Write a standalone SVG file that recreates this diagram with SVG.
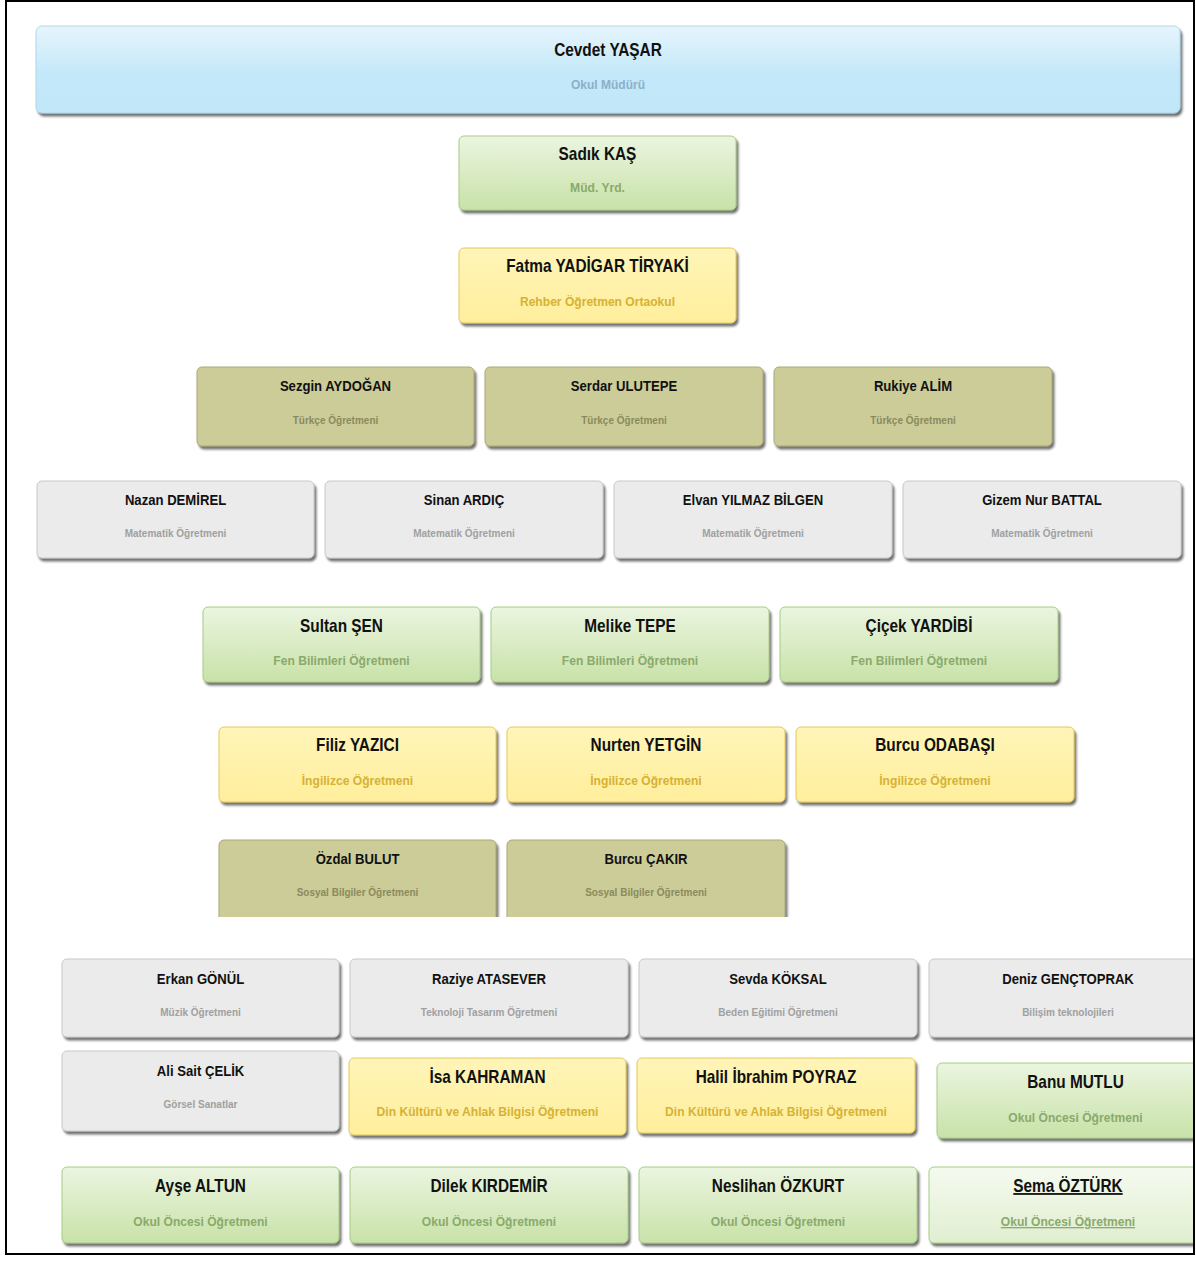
<svg xmlns="http://www.w3.org/2000/svg" width="1196" height="1263" viewBox="0 0 1196 1263">
<style>
.t{font-family:"Liberation Sans",Arial,sans-serif;font-weight:bold;fill:#111;text-anchor:middle;transform-box:fill-box;transform-origin:center}
.t18{font-size:18px;transform:scaleX(.855)}.t15{font-size:15px;transform:scaleX(.875)}
.s{font-family:"Liberation Sans",Arial,sans-serif;font-weight:bold;text-anchor:middle;font-size:13px;transform-box:fill-box;transform-origin:center;transform:scaleX(.93)}
.ss{font-family:"Liberation Sans",Arial,sans-serif;font-weight:bold;text-anchor:middle;font-size:10px}
.blue rect{fill:url(#gb);stroke:#aed8ea}.blue .s{fill:#8cb0c8;font-size:12px;transform:none}
.green rect{fill:url(#gg);stroke:#a6cc84}.green .s{fill:#8aaa6c}
.yellow rect{fill:url(#gy);stroke:#e6c85a}.yellow .s{fill:#d6b234}
.olive rect{fill:#cccc99;stroke:#a9a979}.olive .ss{fill:#8a8a5c}
.gray rect{fill:#ebebeb;stroke:#c8c8c8}.gray .ss{fill:#a0a0a0}
.light rect{fill:url(#gl);stroke:#a6cc84}.light .s{fill:#8aaa6c}
.n rect{filter:url(#sh);stroke-width:1}
.u{text-decoration:underline}
</style>
<defs>
<linearGradient id="gb" x1="0" y1="0" x2="0" y2="1"><stop offset="0" stop-color="#e6f5fc"/><stop offset="0.55" stop-color="#c3e8f9"/><stop offset="1" stop-color="#c0e7f9"/></linearGradient>
<linearGradient id="gg" x1="0" y1="0" x2="0" y2="1"><stop offset="0" stop-color="#ebf5e0"/><stop offset="1" stop-color="#c8e2a8"/></linearGradient>
<linearGradient id="gy" x1="0" y1="0" x2="0" y2="1"><stop offset="0" stop-color="#fff5b8"/><stop offset="1" stop-color="#ffee9c"/></linearGradient>
<linearGradient id="gl" x1="0" y1="0" x2="0" y2="1"><stop offset="0" stop-color="#f5faef"/><stop offset="1" stop-color="#e0eed0"/></linearGradient>
<filter id="sh" x="-5%" y="-10%" width="112%" height="130%"><feDropShadow dx="2" dy="3" stdDeviation="1.2" flood-color="#444" flood-opacity="0.75"/></filter>
<clipPath id="frame"><rect x="6" y="1" width="1187" height="1252"/></clipPath>
<clipPath id="cut917"><rect x="0" y="0" width="1196" height="917"/></clipPath>
</defs>
<rect width="1196" height="1263" fill="#fff"/>
<g id="connectors"/>
<g clip-path="url(#frame)">
<g id="n-cevdet" class="n blue"><rect x="36" y="26" width="1144" height="87" rx="6"/><text class="t t18" x="608" y="56">Cevdet YAŞAR</text><text class="s" x="608" y="89">Okul Müdürü</text></g>
<g id="n-sadik" class="n green"><rect x="459" y="136" width="277" height="74" rx="5"/><text class="t t18" x="597.5" y="160">Sadık KAŞ</text><text class="s" x="597.5" y="192">Müd. Yrd.</text></g>
<g id="n-fatma" class="n yellow"><rect x="459" y="248" width="277" height="75" rx="5"/><text class="t t18" x="597.5" y="272">Fatma YADİGAR TİRYAKİ</text><text class="s" x="597.5" y="306">Rehber Öğretmen Ortaokul</text></g>

<g id="n-sezgin" class="n olive"><rect x="197" y="367" width="277" height="79" rx="5"/><text class="t t15" x="335.5" y="391">Sezgin AYDOĞAN</text><text class="ss" x="335.5" y="424">Türkçe Öğretmeni</text></g>
<g id="n-serdar" class="n olive"><rect x="485" y="367" width="278" height="79" rx="5"/><text class="t t15" x="624" y="391">Serdar ULUTEPE</text><text class="ss" x="624" y="424">Türkçe Öğretmeni</text></g>
<g id="n-rukiye" class="n olive"><rect x="774" y="367" width="278" height="79" rx="5"/><text class="t t15" x="913" y="391">Rukiye ALİM</text><text class="ss" x="913" y="424">Türkçe Öğretmeni</text></g>

<g id="n-nazan" class="n gray"><rect x="37" y="481" width="277" height="77" rx="5"/><text class="t t15" x="175.5" y="505">Nazan DEMİREL</text><text class="ss" x="175.5" y="537">Matematik Öğretmeni</text></g>
<g id="n-sinan" class="n gray"><rect x="325" y="481" width="278" height="77" rx="5"/><text class="t t15" x="464" y="505">Sinan ARDIÇ</text><text class="ss" x="464" y="537">Matematik Öğretmeni</text></g>
<g id="n-elvan" class="n gray"><rect x="614" y="481" width="278" height="77" rx="5"/><text class="t t15" x="753" y="505">Elvan YILMAZ BİLGEN</text><text class="ss" x="753" y="537">Matematik Öğretmeni</text></g>
<g id="n-gizem" class="n gray"><rect x="903" y="481" width="278" height="77" rx="5"/><text class="t t15" x="1042" y="505">Gizem Nur BATTAL</text><text class="ss" x="1042" y="537">Matematik Öğretmeni</text></g>

<g id="n-sultan" class="n green"><rect x="203" y="607" width="277" height="75" rx="5"/><text class="t t18" x="341.5" y="632">Sultan ŞEN</text><text class="s" x="341.5" y="665">Fen Bilimleri Öğretmeni</text></g>
<g id="n-melike" class="n green"><rect x="491" y="607" width="278" height="75" rx="5"/><text class="t t18" x="630" y="632">Melike TEPE</text><text class="s" x="630" y="665">Fen Bilimleri Öğretmeni</text></g>
<g id="n-cicek" class="n green"><rect x="780" y="607" width="278" height="75" rx="5"/><text class="t t18" x="919" y="632">Çiçek YARDİBİ</text><text class="s" x="919" y="665">Fen Bilimleri Öğretmeni</text></g>

<g id="n-filiz" class="n yellow"><rect x="219" y="727" width="277" height="75" rx="5"/><text class="t t18" x="357.5" y="751">Filiz YAZICI</text><text class="s" x="357.5" y="785">İngilizce Öğretmeni</text></g>
<g id="n-nurten" class="n yellow"><rect x="507" y="727" width="278" height="75" rx="5"/><text class="t t18" x="646" y="751">Nurten YETGİN</text><text class="s" x="646" y="785">İngilizce Öğretmeni</text></g>
<g id="n-burcuo" class="n yellow"><rect x="796" y="727" width="278" height="75" rx="5"/><text class="t t18" x="935" y="751">Burcu ODABAŞI</text><text class="s" x="935" y="785">İngilizce Öğretmeni</text></g>

<g clip-path="url(#cut917)">
<g id="n-ozdal" class="n olive"><rect x="219" y="840" width="277" height="85" rx="5"/><text class="t t15" x="357.5" y="864">Özdal BULUT</text><text class="ss" x="357.5" y="896">Sosyal Bilgiler Öğretmeni</text></g>
<g id="n-burcuc" class="n olive"><rect x="507" y="840" width="278" height="85" rx="5"/><text class="t t15" x="646" y="864">Burcu ÇAKIR</text><text class="ss" x="646" y="896">Sosyal Bilgiler Öğretmeni</text></g>
</g>

<g id="n-erkan" class="n gray"><rect x="62" y="959" width="277" height="78" rx="5"/><text class="t t15" x="200.5" y="984">Erkan GÖNÜL</text><text class="ss" x="200.5" y="1016">Müzik Öğretmeni</text></g>
<g id="n-raziye" class="n gray"><rect x="350" y="959" width="278" height="78" rx="5"/><text class="t t15" x="489" y="984">Raziye ATASEVER</text><text class="ss" x="489" y="1016">Teknoloji Tasarım Öğretmeni</text></g>
<g id="n-sevda" class="n gray"><rect x="639" y="959" width="278" height="78" rx="5"/><text class="t t15" x="778" y="984">Sevda KÖKSAL</text><text class="ss" x="778" y="1016">Beden Eğitimi Öğretmeni</text></g>
<g id="n-deniz" class="n gray"><rect x="929" y="959" width="278" height="78" rx="5"/><text class="t t15" x="1068" y="984">Deniz GENÇTOPRAK</text><text class="ss" x="1068" y="1016">Bilişim teknolojileri</text></g>

<g id="n-ali" class="n gray"><rect x="62" y="1051" width="277" height="80" rx="5"/><text class="t t15" x="200.5" y="1076">Ali Sait ÇELİK</text><text class="ss" x="200.5" y="1108">Görsel Sanatlar</text></g>
<g id="n-isa" class="n yellow"><rect x="349" y="1058" width="277" height="77" rx="5"/><text class="t t18" x="487.5" y="1083">İsa KAHRAMAN</text><text class="s" x="487.5" y="1116">Din Kültürü ve Ahlak Bilgisi Öğretmeni</text></g>
<g id="n-halil" class="n yellow"><rect x="637" y="1058" width="278" height="75" rx="5"/><text class="t t18" x="776" y="1083">Halil İbrahim POYRAZ</text><text class="s" x="776" y="1116">Din Kültürü ve Ahlak Bilgisi Öğretmeni</text></g>
<g id="n-banu" class="n green"><rect x="937" y="1063" width="277" height="75" rx="5"/><text class="t t18" x="1075.5" y="1088">Banu MUTLU</text><text class="s" x="1075.5" y="1122">Okul Öncesi Öğretmeni</text></g>

<g id="n-ayse" class="n green"><rect x="62" y="1167" width="277" height="76" rx="5"/><text class="t t18" x="200.5" y="1192">Ayşe ALTUN</text><text class="s" x="200.5" y="1226">Okul Öncesi Öğretmeni</text></g>
<g id="n-dilek" class="n green"><rect x="350" y="1167" width="278" height="76" rx="5"/><text class="t t18" x="489" y="1192">Dilek KIRDEMİR</text><text class="s" x="489" y="1226">Okul Öncesi Öğretmeni</text></g>
<g id="n-neslihan" class="n green"><rect x="639" y="1167" width="278" height="76" rx="5"/><text class="t t18" x="778" y="1192">Neslihan ÖZKURT</text><text class="s" x="778" y="1226">Okul Öncesi Öğretmeni</text></g>
<g id="n-sema" class="n light"><rect x="929" y="1167" width="278" height="76" rx="5"/><text class="t t18 u" x="1068" y="1192">Sema ÖZTÜRK</text><text class="s u" x="1068" y="1226">Okul Öncesi Öğretmeni</text></g>
</g>
<rect x="6" y="1" width="1188" height="1253" fill="none" stroke="#000" stroke-width="2"/>
</svg>
